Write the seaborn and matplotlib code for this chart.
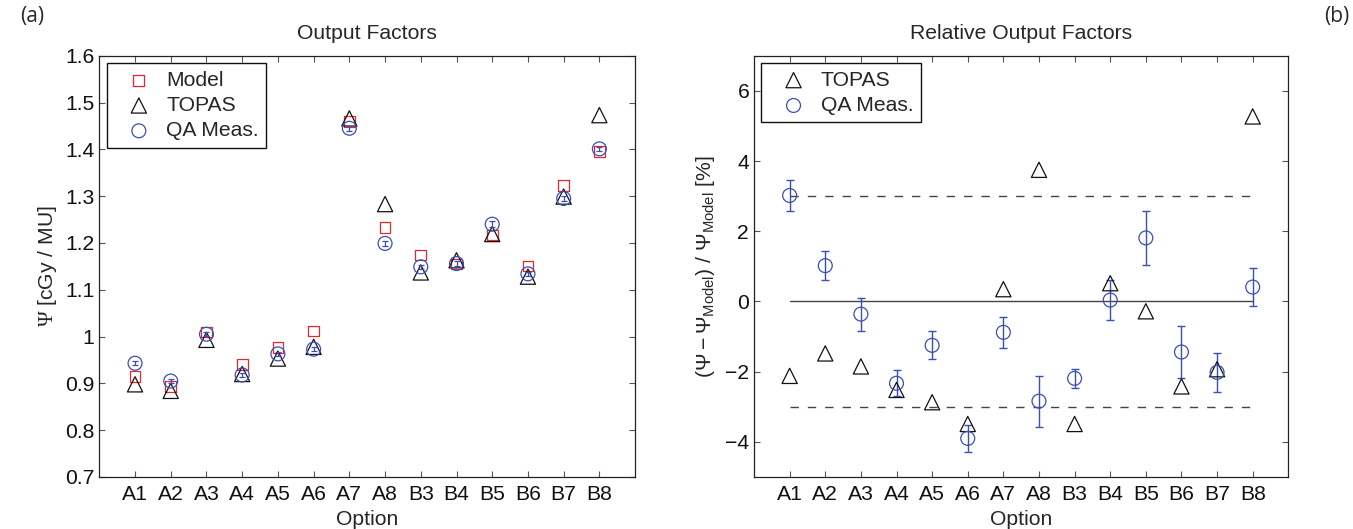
import numpy as np
import pandas as pd
import matplotlib
matplotlib.use("Agg")
import matplotlib.pyplot as plt
import seaborn as sns

# ---- data -------------------------------------------------------------
options = ["A1", "A2", "A3", "A4", "A5", "A6", "A7", "A8",
           "B3", "B4", "B5", "B6", "B7", "B8"]

# output factors [cGy / MU]
of_model = [0.915, 0.894, 1.010, 0.941, 0.977, 1.012, 1.460, 1.233,
            1.174, 1.155, 1.217, 1.151, 1.322, 1.396]
of_topas = [0.898, 0.884, 0.993, 0.920, 0.953, 0.978, 1.466, 1.283,
            1.137, 1.163, 1.219, 1.128, 1.299, 1.473]
of_meas = [0.943, 0.905, 1.005, 0.918, 0.963, 0.973, 1.445, 1.199,
           1.149, 1.156, 1.240, 1.134, 1.295, 1.401]
of_meas_err = [0.004, 0.004, 0.004, 0.004, 0.004, 0.004, 0.005, 0.005,
               0.004, 0.005, 0.006, 0.005, 0.005, 0.005]

# relative deviation from the model [%]
rel_topas = [-2.12, -1.48, -1.85, -2.52, -2.87, -3.49, 0.35, 3.75,
             -3.49, 0.52, -0.28, -2.42, -1.93, 5.27]
rel_meas = [3.02, 1.02, -0.36, -2.33, -1.25, -3.90, -0.88, -2.84,
            -2.19, 0.04, 1.81, -1.44, -2.02, 0.41]
rel_meas_err = [0.43, 0.41, 0.47, 0.37, 0.40, 0.39, 0.45, 0.73,
                0.28, 0.58, 0.78, 0.75, 0.56, 0.53]
tolerance = 3.0

# ---- style ------------------------------------------------------------
sns.set_theme(style="white")
plt.rcParams["font.family"] = ["Liberation Sans", "DejaVu Sans"]
plt.rcParams["mathtext.fontset"] = "custom"
plt.rcParams["mathtext.rm"] = "Liberation Serif"
plt.rcParams["mathtext.sf"] = "Liberation Sans"
plt.rcParams["mathtext.it"] = "Liberation Sans:italic"

RED = "#e8262b"
BLUE = "#3a4fb5"
BLACK = "#111111"
FS = 15.2

fig = plt.figure(figsize=(13.53, 5.29), dpi=100)
ax1 = fig.add_axes([0.0734, 0.0983, 0.3960, 0.7964])
ax2 = fig.add_axes([0.5573, 0.0983, 0.3949, 0.7964])

df_of = pd.DataFrame({"option": options, "model": of_model,
                      "topas": of_topas, "meas": of_meas, "err": of_meas_err})
df_rel = pd.DataFrame({"option": options, "topas": rel_topas,
                       "meas": rel_meas, "err": rel_meas_err})

mk = dict(facecolor="none", linewidth=0.9)

# ---- (a) output factors ----------------------------------------------
sns.scatterplot(data=df_of, x="option", y="model", ax=ax1, marker="s",
                s=60, edgecolor=RED, label="Model", **mk)
sns.scatterplot(data=df_of, x="option", y="topas", ax=ax1, marker="^",
                s=120, edgecolor=BLACK, label="TOPAS", **mk)
sns.scatterplot(data=df_of, x="option", y="meas", ax=ax1, marker="o",
                s=100, edgecolor=BLUE, label="QA Meas.", **mk)
ax1.errorbar(df_of["option"], df_of["meas"], yerr=df_of["err"], fmt="none",
             ecolor=BLUE, elinewidth=0.9, capsize=2.5, capthick=0.9)

ax1.set_xlim(-1, len(options))
ax1.set_ylim(0.7, 1.6)
ax1.set_yticks(np.arange(0.7, 1.61, 0.1))
ax1.set_yticklabels(["0.7", "0.8", "0.9", "1", "1.1", "1.2", "1.3",
                     "1.4", "1.5", "1.6"])
ax1.set_title("Output Factors", fontsize=FS, pad=12)
ax1.set_xlabel("Option", fontsize=FS, labelpad=4)
ax1.set_ylabel(r"$\mathrm{\Psi}$ [cGy / MU]", fontsize=FS, labelpad=4)

# ---- (b) relative output factors --------------------------------------
ax2.plot([0, len(options) - 1], [0, 0], color="#444444", lw=1.0, zorder=1)
for level in (tolerance, -tolerance):
    ax2.plot([0, len(options) - 1], [level, level], color="#444444",
             lw=1.0, dashes=(6, 6.5), zorder=1)

sns.scatterplot(data=df_rel, x="option", y="topas", ax=ax2, marker="^",
                s=120, edgecolor=BLACK, label="TOPAS", zorder=3, **mk)
sns.scatterplot(data=df_rel, x="option", y="meas", ax=ax2, marker="o",
                s=100, edgecolor=BLUE, label="QA Meas.", zorder=3, **mk)
ax2.errorbar(df_rel["option"], df_rel["meas"], yerr=df_rel["err"],
             fmt="none", ecolor=BLUE, elinewidth=1.0, capsize=3,
             capthick=1.0, zorder=2)

ax2.set_xlim(-1, len(options))
ax2.set_ylim(-5, 7)
ax2.set_yticks([-4, -2, 0, 2, 4, 6])
ax2.set_title("Relative Output Factors", fontsize=FS, pad=12)
ax2.set_xlabel("Option", fontsize=FS, labelpad=4)
ax2.set_ylabel(r"$\mathsf{(\Psi - \Psi_{Model})\ /\ \Psi_{Model}}$ [%]",
               fontsize=FS, labelpad=6)

# ---- shared axis cosmetics -------------------------------------------
for ax in (ax1, ax2):
    for sp in ax.spines.values():
        sp.set_color("#222222")
        sp.set_linewidth(0.9)
        sp.set_visible(True)
    ax.tick_params(axis="both", which="both", direction="in", length=4,
                   width=0.8, color="#555555", top=True, right=True,
                   bottom=True, left=True, labelsize=FS,
                   labelcolor="#111111")
    ax.tick_params(axis="x", pad=6)
    ax.tick_params(axis="y", pad=3.5)
    leg = ax.legend(loc="upper left", bbox_to_anchor=(0.0135, 0.982),
                    borderaxespad=0, fontsize=FS, frameon=True,
                    fancybox=False, edgecolor="#111111", framealpha=1,
                    handletextpad=0.12, borderpad=0.35, labelspacing=0.3,
                    handlelength=2.36)
    leg.get_frame().set_linewidth(1.0)

fig.text(0.0148, 0.958, "(a)", fontsize=15, family="Open Sans")
fig.text(0.979, 0.958, "(b)", fontsize=15, family="Open Sans")

fig.savefig("out.png", dpi=100, facecolor="white")
